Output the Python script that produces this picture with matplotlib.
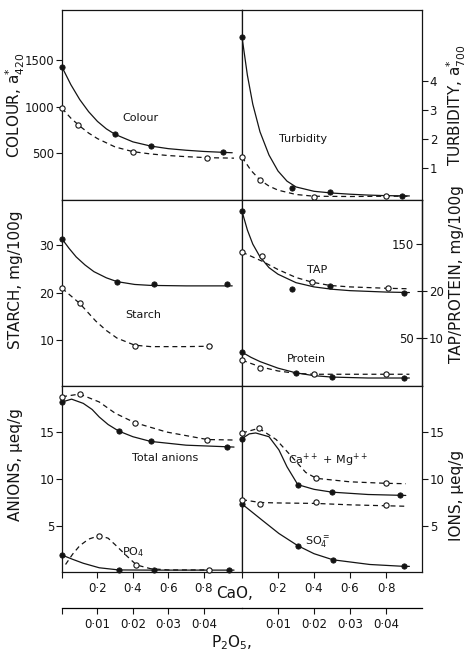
import matplotlib
matplotlib.use('Agg')
import matplotlib.pyplot as plt

plt.rcParams['font.family'] = ['DejaVu Sans']
plt.rcParams['mathtext.default'] = 'regular'

# ---------------- data ----------------
# Colour (left top)
col_fill_x = [0, 0.30, 0.50, 0.91]
col_fill_y = [1430, 710, 584, 513]
col_solid_x = [0, 0.05, 0.1, 0.15, 0.2, 0.25, 0.3, 0.4, 0.5, 0.6, 0.7, 0.8, 0.96]
col_solid_y = [1430, 1240, 1080, 950, 845, 765, 705, 625, 580, 552, 535, 522, 508]
col_open_x = [0, 0.09, 0.40, 0.82]
col_open_y = [986, 806, 519, 455]
col_dash_x = [0, 0.05, 0.1, 0.15, 0.2, 0.3, 0.4, 0.5, 0.6, 0.7, 0.82, 0.97]
col_dash_y = [986, 880, 795, 720, 660, 570, 520, 495, 478, 466, 455, 450]

# Turbidity (right top)
tur_fill_x = [0, 0.28, 0.49, 0.89]
tur_fill_y = [5.52, 0.31, 0.17, 0.04]
tur_solid_x = [0, 0.03, 0.06, 0.1, 0.15, 0.2, 0.25, 0.3, 0.4, 0.5, 0.6, 0.7, 0.8, 0.93]
tur_solid_y = [5.52, 4.2, 3.2, 2.25, 1.45, 0.9, 0.55, 0.35, 0.2, 0.14, 0.1, 0.07, 0.05, 0.04]
tur_open_x = [0, 0.1, 0.4, 0.8]
tur_open_y = [1.38, 0.59, 0.02, 0.04]
tur_dash_x = [0, 0.05, 0.1, 0.15, 0.2, 0.3, 0.4, 0.6, 0.8, 0.93]
tur_dash_y = [1.38, 0.92, 0.59, 0.38, 0.24, 0.09, 0.03, 0.02, 0.03, 0.03]

# Starch (left middle)
sta_fill_x = [0, 0.31, 0.52, 0.93]
sta_fill_y = [31.3, 22.3, 21.9, 21.9]
sta_solid_x = [0, 0.04, 0.08, 0.13, 0.18, 0.25, 0.31, 0.41, 0.5, 0.7, 0.96]
sta_solid_y = [31.3, 29.3, 27.5, 25.8, 24.4, 23.1, 22.3, 21.7, 21.5, 21.4, 21.4]
sta_open_x = [0, 0.1, 0.41, 0.83]
sta_open_y = [20.9, 17.7, 8.8, 8.8]
sta_dash_x = [0, 0.1, 0.19, 0.25, 0.31, 0.41, 0.5, 0.7, 0.86]
sta_dash_y = [20.9, 17.7, 14.0, 12.0, 10.4, 8.9, 8.6, 8.6, 8.7]

# TAP and protein (right middle)
tap_fill_x = [0, 0.28, 0.49, 0.9]
tap_fill_y = [37.0, 20.4, 21.1, 19.6]
tap_solid_x = [0, 0.03, 0.06, 0.1, 0.15, 0.2, 0.3, 0.4, 0.5, 0.6, 0.8, 0.93]
tap_solid_y = [37.0, 33.0, 30.0, 27.3, 25.0, 23.6, 21.8, 20.9, 20.4, 20.1, 19.8, 19.7]
tap_open_x = [0, 0.11, 0.39, 0.81]
tap_open_y = [28.3, 27.4, 21.9, 20.6]
tap_dash_x = [0, 0.11, 0.2, 0.3, 0.39, 0.49, 0.6, 0.81, 0.93]
tap_dash_y = [28.3, 26.4, 24.6, 22.9, 21.9, 21.2, 20.9, 20.6, 20.5]
pro_fill_x = [0, 0.3, 0.5, 0.9]
pro_fill_y = [7.0, 2.55, 1.7, 1.6]
pro_solid_x = [0, 0.05, 0.1, 0.2, 0.3, 0.4, 0.5, 0.7, 0.93]
pro_solid_y = [7.0, 5.9, 5.0, 3.6, 2.6, 2.0, 1.7, 1.5, 1.5]
pro_open_x = [0, 0.1, 0.4, 0.8]
pro_open_y = [5.3, 3.6, 2.3, 2.3]
pro_dash_x = [0, 0.1, 0.2, 0.3, 0.4, 0.6, 0.8, 0.93]
pro_dash_y = [5.3, 3.9, 3.0, 2.5, 2.3, 2.3, 2.3, 2.3]

# Anions (left bottom)
tan_fill_x = [0, 0.32, 0.50, 0.93]
tan_fill_y = [18.2, 15.1, 14.0, 13.4]
tan_solid_x = [0, 0.054, 0.12, 0.17, 0.21, 0.26, 0.32, 0.4, 0.5, 0.7, 0.97]
tan_solid_y = [18.2, 18.5, 18.05, 17.4, 16.6, 15.8, 15.1, 14.5, 14.0, 13.6, 13.4]
tan_open_x = [0, 0.1, 0.41, 0.82]
tan_open_y = [18.76, 19.04, 16.0, 14.2]
tan_dash_x = [0, 0.1, 0.21, 0.3, 0.41, 0.59, 0.82, 0.97]
tan_dash_y = [18.76, 19.04, 18.2, 17.0, 16.0, 15.0, 14.2, 14.15]
po4_fill_x = [0, 0.32, 0.52, 0.94]
po4_fill_y = [1.9, 0.3, 0.3, 0.3]
po4_solid_x = [0, 0.06, 0.12, 0.21, 0.32, 0.5, 0.7, 0.97]
po4_solid_y = [1.9, 1.45, 1.03, 0.55, 0.32, 0.3, 0.3, 0.3]
po4_open_x = [0.21, 0.42, 0.83]
po4_open_y = [3.97, 0.85, 0.32]
po4_dash_x = [0.02, 0.06, 0.1, 0.15, 0.21, 0.26, 0.3, 0.36, 0.42, 0.5, 0.6, 0.83]
po4_dash_y = [0.9, 2.0, 2.9, 3.6, 3.97, 3.7, 3.0, 1.9, 0.85, 0.45, 0.32, 0.32]

# Ions (right bottom)
cam_fill_x = [0, 0.31, 0.50, 0.876]
cam_fill_y = [14.3, 9.4, 8.6, 8.3]
cam_solid_x = [0, 0.04, 0.076, 0.15, 0.205, 0.25, 0.31, 0.4, 0.5, 0.7, 0.91]
cam_solid_y = [14.3, 14.8, 14.9, 14.5, 13.1, 11.3, 9.4, 8.9, 8.6, 8.35, 8.25]
cam_open_x = [0, 0.094, 0.413, 0.8]
cam_open_y = [14.9, 15.4, 10.07, 9.54]
cam_dash_x = [0, 0.094, 0.19, 0.28, 0.354, 0.413, 0.6, 0.8, 0.91]
cam_dash_y = [14.9, 15.4, 14.2, 12.3, 10.7, 10.07, 9.7, 9.54, 9.5]
so4_fill_x = [0, 0.31, 0.505, 0.9]
so4_fill_y = [7.34, 2.9, 1.4, 0.7]
so4_solid_x = [0, 0.113, 0.205, 0.31, 0.4, 0.505, 0.71, 0.9, 0.93]
so4_solid_y = [7.34, 5.6, 4.2, 2.9, 2.05, 1.4, 0.9, 0.7, 0.7]
so4_open_x = [0, 0.1, 0.41, 0.8]
so4_open_y = [7.77, 7.34, 7.55, 7.2]
so4_dash_x = [0, 0.1, 0.2, 0.41, 0.6, 0.8, 0.91]
so4_dash_y = [7.8, 7.5, 7.45, 7.4, 7.25, 7.15, 7.1]

# ticks
cao_ticks = [0, 0.2, 0.4, 0.6, 0.8]
cao_labels = ['', '0·2', '0·4', '0·6', '0·8']
p_ticks_left = [0, 0.01, 0.02, 0.03, 0.04]
p_labels_left = ['', '0·01', '0·02', '0·03', '0·04']
p_ticks_right = [0.01, 0.02, 0.03, 0.04]
p_labels_right = ['0·01', '0·02', '0·03', '0·04']
colour_ticks = [500, 1000, 1500]
turb_ticks = [1, 2, 3, 4]
starch_ticks = [10, 20, 30]
tap_ticks = [10, 20]
tap_inner_ticks = [50, 150]
ion_ticks = [5, 10, 15]

# ---------------- figure ----------------
W, H = 471, 653
fig = plt.figure(figsize=(W / 100, H / 100), dpi=100)
INK = '#141414'


def box(x0, y0, x1, y1):
    return [x0 / W, 1 - y1 / H, (x1 - x0) / W, (y1 - y0) / H]


ax1 = fig.add_axes(box(62, 10, 242, 200))
ax2 = fig.add_axes(box(242, 10, 422, 200))
ax3 = fig.add_axes(box(62, 200, 242, 386))
ax4 = fig.add_axes(box(242, 200, 422, 386))
ax5 = fig.add_axes(box(62, 386, 242, 572))
ax6 = fig.add_axes(box(242, 386, 422, 572))

LW = 0.9
DASH = (4, 3)


def series(ax, fx, fy, sx, sy, ox, oy, dx, dy):
    ax.plot(sx, sy, color=INK, lw=LW, solid_capstyle='round')
    ax.plot(dx, dy, color=INK, lw=LW, dashes=DASH)
    ax.plot(fx, fy, 'o', color=INK, ms=3.8, mew=0.6, clip_on=False, zorder=4)
    ax.plot(ox, oy, 'o', mfc='white', mec=INK, ms=3.8, mew=0.8, clip_on=False, zorder=4)


series(ax1, col_fill_x, col_fill_y, col_solid_x, col_solid_y, col_open_x, col_open_y, col_dash_x, col_dash_y)
series(ax2, tur_fill_x, tur_fill_y, tur_solid_x, tur_solid_y, tur_open_x, tur_open_y, tur_dash_x, tur_dash_y)
series(ax3, sta_fill_x, sta_fill_y, sta_solid_x, sta_solid_y, sta_open_x, sta_open_y, sta_dash_x, sta_dash_y)
series(ax4, tap_fill_x, tap_fill_y, tap_solid_x, tap_solid_y, tap_open_x, tap_open_y, tap_dash_x, tap_dash_y)
series(ax4, pro_fill_x, pro_fill_y, pro_solid_x, pro_solid_y, pro_open_x, pro_open_y, pro_dash_x, pro_dash_y)
series(ax5, tan_fill_x, tan_fill_y, tan_solid_x, tan_solid_y, tan_open_x, tan_open_y, tan_dash_x, tan_dash_y)
series(ax5, po4_fill_x, po4_fill_y, po4_solid_x, po4_solid_y, po4_open_x, po4_open_y, po4_dash_x, po4_dash_y)
series(ax6, cam_fill_x, cam_fill_y, cam_solid_x, cam_solid_y, cam_open_x, cam_open_y, cam_dash_x, cam_dash_y)
series(ax6, so4_fill_x, so4_fill_y, so4_solid_x, so4_solid_y, so4_open_x, so4_open_y, so4_dash_x, so4_dash_y)

# limits
for ax in (ax1, ax3, ax5):
    ax.set_xlim(0, 1.015)
for ax in (ax2, ax4, ax6):
    ax.set_xlim(0, 1.0)
ax1.set_ylim(0, 2043)
ax2.set_ylim(-0.1, 6.45)
ax3.set_ylim(0.3, 39.5)
ax4.set_ylim(-0.2, 39.4)
ax5.set_ylim(0.1, 19.9)
ax6.set_ylim(0.1, 19.9)

# axes styling
for ax in (ax1, ax2, ax3, ax4, ax5, ax6):
    for s in ax.spines.values():
        s.set_linewidth(LW)
        s.set_color(INK)
    ax.set_xticks(cao_ticks, labels=cao_labels)
    ax.tick_params(axis='x', direction='out', length=4, width=0.8, labelsize=8.5,
                   pad=3, colors=INK, top=False)
    ax.tick_params(axis='y', direction='out', length=4, width=0.8, labelsize=8.5,
                   pad=1.5, colors=INK)
    if ax not in (ax5, ax6):
        ax.tick_params(axis='x', labelbottom=False)

ax1.set_yticks(colour_ticks)
ax3.set_yticks(starch_ticks)
ax5.set_yticks(ion_ticks)
for ax, tk in ((ax2, turb_ticks), (ax4, tap_ticks), (ax6, ion_ticks)):
    ax.yaxis.tick_right()
    ax.set_yticks(tk)
    ax.tick_params(axis='y', left=False)
ax4.tick_params(axis='y', direction='inout', length=7)

# inner scale for TAP (mg/100g)
sec4 = ax4.secondary_yaxis(1.0, functions=(lambda v: v * 5, lambda v: v / 5))
sec4.set_alignment('left')
sec4.set_yticks(tap_inner_ticks)
sec4.tick_params(axis='y', direction='out', length=4, width=0.8, labelsize=8.5,
                 pad=1.5, colors=INK)
sec4.spines['left'].set_linewidth(LW)

# y labels
LAB = dict(fontsize=11, color=INK, va='center')
ax1.set_ylabel('COLOUR, a$^{*}_{420}$', **LAB)
ax1.yaxis.set_label_coords(-0.26, 0.5)
ax3.set_ylabel('STARCH, mg/100g', **LAB)
ax3.yaxis.set_label_coords(-0.26, 0.57)
ax5.set_ylabel('ANIONS, μeq/g', **LAB)
ax5.yaxis.set_label_coords(-0.26, 0.575)
ax2.yaxis.set_label_position('right')
ax2.set_ylabel('TURBIDITY, a$^{*}_{700}$', **LAB)
ax2.yaxis.set_label_coords(1.19, 0.5)
ax4.yaxis.set_label_position('right')
ax4.set_ylabel('TAP/PROTEIN, mg/100g', **LAB)
ax4.yaxis.set_label_coords(1.19, 0.6)
ax6.yaxis.set_label_position('right')
ax6.set_ylabel('IONS, μeq/g', **LAB)
ax6.yaxis.set_label_coords(1.19, 0.41)

# curve labels
TXT = dict(fontsize=8, color=INK, ha='center', va='center')
ax1.text(0.44, 881, 'Colour', **TXT)
ax2.text(0.34, 2.0, 'Turbidity', **TXT)
ax3.text(0.46, 15.3, 'Starch', **TXT)
ax4.text(0.42, 24.5, 'TAP', **TXT)
ax4.text(0.36, 5.5, 'Protein', **TXT)
ax5.text(0.58, 12.2, 'Total anions', **TXT)
ax5.text(0.40, 2.2, 'PO$_4$', **TXT)
ax6.text(0.48, 12.0, 'Ca$^{++}$ + Mg$^{++}$', **TXT)
ax6.text(0.42, 3.2, 'SO$_4^{=}$', **TXT)

# P2O5 scale under each bottom panel
for ax, tk, lb in ((ax5, p_ticks_left, p_labels_left), (ax6, p_ticks_right, p_labels_right)):
    sec = ax.secondary_xaxis(-0.194, functions=(lambda c: c / 20, lambda p: p * 20))
    sec.set_xticks(tk, labels=lb)
    sec.tick_params(axis='x', direction='out', length=4, width=0.8, labelsize=8.5,
                    pad=3, colors=INK)
    sec.spines['bottom'].set_linewidth(LW)

fig.text(235 / W, 1 - 594 / H, 'CaO,', fontsize=11, color=INK, ha='center', va='center')
fig.text(232 / W, 1 - 643 / H, 'P$_2$O$_5$,', fontsize=11, color=INK, ha='center', va='center')

fig.savefig('out.png', dpi=100, facecolor='white')
